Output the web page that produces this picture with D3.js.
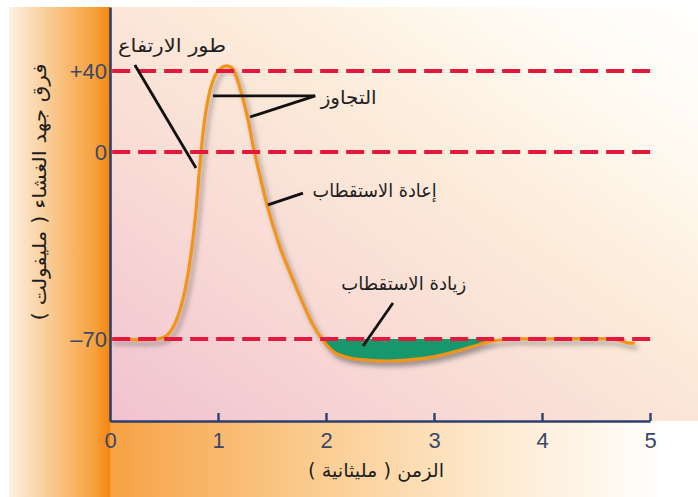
<!DOCTYPE html>
<html>
<head>
<meta charset="utf-8">
<script src="https://cdn.jsdelivr.net/npm/d3@7"></script>
<style>
  html, body { margin: 0; padding: 0; background: #ffffff; }
  svg { display: block; }
  .ar { font-family: "DejaVu Sans", "Noto Sans", sans-serif; fill: #1e1e1e; }
</style>
</head>
<body>
<svg id="chart" width="698" height="497"></svg>
<script>
// Membrane potential over one action potential (time in ms, potential in mV)
const timeMs = [0, 0.444, 0.519, 0.574, 0.630, 0.685, 0.731, 0.769, 0.801, 0.824, 0.847, 0.870, 0.898, 0.935, 0.981, 1.028, 1.083, 1.130, 1.167, 1.222, 1.278, 1.333, 1.389, 1.454, 1.574, 1.722, 1.870, 1.963, 2.074, 2.22, 2.38, 2.62, 2.99, 3.31, 3.49, 3.70, 4.0, 4.6, 4.72, 4.80, 4.86];
const voltageMv = [-70, -70, -68.9, -66.3, -61.4, -53.5, -43.4, -32.2, -19.8, -8.6, 2.0, 13.3, 23.2, 32.1, 38.5, 41.5, 42.5, 41.5, 37.5, 28.1, 15.8, 1.0, -9.0, -19.8, -35.6, -50.5, -64, -70, -74.9, -77.1, -77.9, -78.2, -76.7, -73.4, -71.2, -70, -70, -70, -70.5, -71.5, -71.5];

// Axis ticks
const xTicks = [0, 1, 2, 3, 4, 5];
const yTicks = [40, 0, -70];
const yTickLabels = ["+40", "0", "\u201370"];
const restingMv = -70;

// Phase labels and their leader lines (in ms / mV)
const phaseNames = ["طور الارتفاع", "التجاوز", "إعادة الاستقطاب", "زيادة الاستقطاب"];
const phaseLabelAt = [[0.574, 49.5], [2.21, 23.5], [2.45, -16.8], [2.72, -51.5]];
const phaseLabelWidth = [108, 56, 124, 125];
const phaseLeaders = [
  [[[0.23, 43], [0.796, -6]]],
  [[[1.90, 27.7], [0.954, 27.7]], [[1.90, 27.7], [1.296, 17.3]]],
  [[[1.787, -15.4], [1.463, -19.8]]],
  [[[2.62, -56.5], [2.343, -72.6]]]
];
const xTitle = "الزمن ( مليثانية )";
const yTitle = "فرق جهد الغشاء ( مليفولت )";

const svg = d3.select("#chart");
const defs = svg.append("defs");

const x = d3.scaleLinear().domain([0, 5]).range([110, 650]);
// Stylised vertical scale: the resting band is stretched relative to the upper band
const y = d3.scaleLinear().domain([-100.7, -70, 0, 40, 71.6]).range([421, 339, 152, 71, 7]);

// Gradients
function linGrad(id, x1, y1, x2, y2, stops) {
  const g = defs.append("linearGradient").attr("id", id)
    .attr("x1", x1).attr("y1", y1).attr("x2", x2).attr("y2", y2);
  stops.forEach(([o, c]) => g.append("stop").attr("offset", o).attr("stop-color", c));
}
linGrad("leftBand", 0, 0, 1, 0, [[0, "#fdf0e2"], [0.45, "#f9c68a"], [0.85, "#f7a03c"], [1, "#f4860e"]]);
linGrad("plotBg", 0, 1, 1, 0, [[0, "#f1c2cf"], [0.3, "#f8d9d5"], [0.58, "#fcebd9"], [0.82, "#fffaf1"], [1, "#ffffff"]]);
linGrad("bottomBand", 0, 0, 1, 0, [[0, "#f7a244"], [0.35, "#fbcc90"], [0.65, "#fdeacf"], [0.95, "#ffffff"], [1, "#ffffff"]]);

const shadow = defs.append("filter").attr("id", "soft")
  .attr("x", "-10%").attr("y", "-10%").attr("width", "130%").attr("height", "130%");
shadow.append("feDropShadow").attr("dx", 3).attr("dy", 4).attr("stdDeviation", 2.8)
  .attr("flood-color", "#5f5f5f").attr("flood-opacity", 0.6);

// Background panels
const xL = x(0), xR = 698, yTop = y(71.6), yBot = y(-100.7);
svg.append("rect").attr("x", 9).attr("y", yTop).attr("width", xL - 9).attr("height", 497 - yTop).attr("fill", "url(#leftBand)");
svg.append("rect").attr("x", xL).attr("y", yTop).attr("width", xR - xL).attr("height", yBot - yTop).attr("fill", "url(#plotBg)");
svg.append("rect").attr("x", xL).attr("y", yBot).attr("width", xR - xL).attr("height", 497 - yBot).attr("fill", "url(#bottomBand)");

const pts = timeMs.map((t, i) => [t, voltageMv[i]]);
const curve = d3.curveCatmullRom.alpha(0.5);

// Hyperpolarisation fill, clipped to below the resting level
defs.append("clipPath").attr("id", "belowRest").append("rect")
  .attr("x", x(1.5)).attr("y", y(restingMv)).attr("width", x(3.9) - x(1.5)).attr("height", yBot - y(restingMv));

const trace = svg.append("g").attr("filter", "url(#soft)");
trace.append("path")
  .datum(pts)
  .attr("clip-path", "url(#belowRest)")
  .attr("fill", "#15976c")
  .attr("d", d3.area().curve(curve).x(d => x(d[0])).y0(y(restingMv)).y1(d => y(d[1])));
trace.append("path")
  .datum(pts)
  .attr("fill", "none")
  .attr("stroke", "#f39414")
  .attr("stroke-width", 3.2)
  .attr("stroke-linejoin", "round")
  .attr("d", d3.line().curve(curve).x(d => x(d[0])).y(d => y(d[1])));

// Reference levels
svg.append("g").selectAll("line").data(yTicks).join("line")
  .attr("x1", x(0.02)).attr("x2", x(5.01))
  .attr("y1", d => y(d)).attr("y2", d => y(d))
  .attr("stroke", "#e4183c").attr("stroke-width", 3.8)
  .attr("stroke-dasharray", "18 8");

// Axes
const axisColor = "#2c3f6d";
const yAxis = svg.append("g").attr("transform", `translate(${xL},0)`)
  .call(d3.axisLeft(y).tickValues(yTicks).tickSize(0).tickPadding(3)
    .tickFormat((d, i) => yTickLabels[i]));
const xAxis = svg.append("g").attr("transform", `translate(0,${yBot})`)
  .call(d3.axisBottom(x).tickValues(xTicks).tickSizeInner(-8).tickSizeOuter(0).tickPadding(11).tickFormat(d3.format("d")));
[yAxis, xAxis].forEach(g => {
  g.select(".domain").attr("stroke", axisColor).attr("stroke-width", 2.6);
  g.selectAll(".tick line").attr("stroke", axisColor).attr("stroke-width", 2.4);
  g.selectAll(".tick text").attr("fill", "#3a4868")
    .style("font-family", "Liberation Sans, Arial, sans-serif").style("font-size", "22px");
});
xAxis.selectAll(".tick").filter(d => d === 0).select("line").remove();

// Leader lines
const leader = d3.line().x(d => x(d[0])).y(d => y(d[1]));
svg.append("g").selectAll("path").data(phaseLeaders.flat()).join("path")
  .attr("d", leader).attr("fill", "none")
  .attr("stroke", "#111").attr("stroke-width", 2.8);

// Phase labels
svg.append("g").selectAll("text").data(phaseNames).join("text")
  .attr("class", "ar")
  .attr("x", (d, i) => x(phaseLabelAt[i][0]))
  .attr("y", (d, i) => y(phaseLabelAt[i][1]))
  .attr("text-anchor", "middle").attr("direction", "rtl")
  .attr("textLength", (d, i) => phaseLabelWidth[i])
  .attr("lengthAdjust", "spacingAndGlyphs")
  .style("font-size", "19px")
  .text(d => d);

// Axis titles
svg.append("text").attr("class", "ar")
  .attr("x", 376).attr("y", 477)
  .attr("text-anchor", "middle").attr("direction", "rtl")
  .attr("textLength", 136).attr("lengthAdjust", "spacingAndGlyphs")
  .style("font-size", "19px")
  .text(xTitle);
svg.append("text").attr("class", "ar")
  .attr("transform", "translate(46,192) rotate(-90)")
  .attr("text-anchor", "middle").attr("direction", "rtl")
  .attr("textLength", 257).attr("lengthAdjust", "spacingAndGlyphs")
  .style("font-size", "19px")
  .text(yTitle);
</script>
</body>
</html>
